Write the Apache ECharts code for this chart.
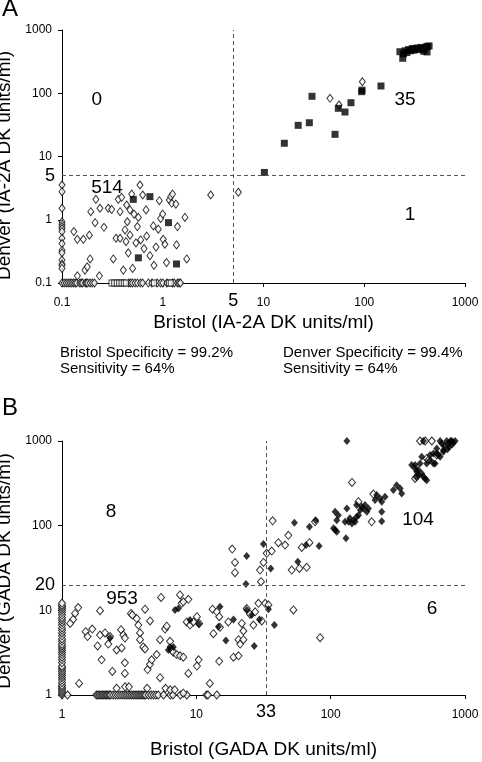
<!DOCTYPE html>
<html><head><meta charset="utf-8">
<script src="https://cdn.jsdelivr.net/npm/echarts@6/dist/echarts.min.js"></script>
<style>html,body{margin:0;padding:0;background:#fff}#c{width:482px;height:762px}</style>
</head><body><div id="c"></div>
<script>
// ---------- Panel A (IA-2A) ----------
const iaTicks = [0.1, 1, 10, 100, 1000];
const iaCutoff = 5;
// open diamonds lying on the Bristol = 0.1 axis (Denver values)
const iaOpenOnYAxis = [3.54,2.78,1.52,0.93,0.85,0.78,0.72,0.65,0.51,0.42,0.33,0.3,0.23,0.2,0.19,0.17];
// open diamonds lying on the Denver = 0.1 axis (Bristol values)
const iaOpenOnXAxis = [0.1,0.105,0.11,0.115,0.12,0.125,0.13,0.135,0.14,0.15,0.155,0.16,0.17,0.175,0.18,0.19,0.2,0.21,0.46,0.48,0.5,0.53,0.56,0.6,0.63,0.72,0.78,0.88,0.95,1.0,1.1,1.25,1.3,1.4,1.45,1.5];
// open squares on the Denver = 0.1 axis (Bristol values)
const iaSquareOnXAxis = [0.31,0.33,0.35,0.37,0.39,0.41,0.43,0.82,1.15,1.2];
// open diamonds [Bristol, Denver]
const iaOpen = [[0.131,0.65],[0.142,0.49],[0.142,0.13],[0.163,0.49],[0.169,0.16],[0.178,0.18],[0.187,0.57],[0.19,0.24],[0.193,1.34],[0.213,0.9],[0.217,2.1],[0.235,0.13],[0.238,1.52],[0.261,0.76],[0.288,1.52],[0.311,1.46],[0.323,0.24],[0.344,0.51],[0.362,2.1],[0.377,1.34],[0.377,0.51],[0.391,2.26],[0.406,0.16],[0.422,0.69],[0.432,0.45],[0.438,1.71],[0.445,0.93],[0.455,0.3],[0.473,1.43],[0.473,0.57],[0.492,2.55],[0.502,0.17],[0.519,1.23],[0.542,0.43],[0.56,0.78],[0.573,1.09],[0.594,3.54],[0.604,0.48],[0.632,2.46],[0.652,0.35],[0.683,1.43],[0.692,0.55],[0.746,0.27],[0.807,0.8],[0.818,0.19],[0.857,0.37],[0.904,0.71],[0.925,2.0],[0.953,1.05],[0.998,1.23],[1.01,0.49],[1.05,0.41],[1.09,0.21],[1.16,2.05],[1.2,2.32],[1.23,1.82],[1.25,2.55],[1.35,1.77],[1.37,0.4],[1.4,0.78],[1.66,1.09],[1.73,0.24],[2.99,2.46],[5.63,2.72],[45.7,83.2],[95.7,152],[56.2,65.2]];
// filled squares [Bristol, Denver]
const iaFilled = [[0.51,2.1],[0.746,2.32],[1.14,0.9],[0.573,0.25],[1.37,0.2],[10.2,5.6],[16.1,16.2],[22.1,31.1],[28.5,34.2],[30.3,89.5],[51.3,22.4],[55.3,57.8],[64.4,50.5],[73.8,70.9],[94.3,105.9],[95,112],[146.6,130.2],[226,454],[241,357],[245,420],[255,470],[265,440],[275,490],[290,470],[300,510],[310,480],[320,500],[335,520],[350,490],[365,530],[380,500],[395,510],[410,540],[425,550],[440,560],[420,450],[390,460]];
// quadrant counts [text, Bristol, Denver]
const iaQuadrants = [['0',0.222,78],['35',254,78],['514',0.28,3.2],['1',284,1.19]];

// ---------- Panel B (GADA) ----------
const gadaXCutoff = 33;
const gadaYCutoff = 20;
const gadaOpenOnYAxis = [1,1.05,1.1,1.15,1.2,1.25,1.3,1.4,1.5,1.6,1.7,1.8,1.9,2,2.1,2.2,2.4,2.6,2.8,3,3.2,3.4,3.6,3.8,4,4.3,4.6,5,5.4,5.8,6.2,6.7,7.2,7.7,8.2,8.8,9.4,10,10.5,11,11.5,12.2];
const gadaOpenOnXAxis = [1.1,1.8,1.85,1.9,1.95,2.0,2.05,2.1,2.15,2.2,2.25,2.3,2.4,2.5,2.6,2.7,2.8,2.9,3.0,3.1,3.2,3.3,3.4,3.5,3.6,3.7,3.8,3.9,4.0,4.1,4.2,4.4,4.6,4.8,5.0,5.2,5.7,6.4,6.7,7.6,8.5,11.9,12.2,14.2];
const gadaOpen = [[1.32,10.8],[1.25,9.2],[1.21,7.8],[1.15,7.0],[1.34,1.37],[1.92,9.9],[1.5,5.6],[1.55,4.9],[1.68,6.0],[1.84,3.8],[1.92,5.1],[2.09,5.4],[2.28,4.9],[2.21,4.0],[1.97,2.6],[2.37,1.9],[2.55,3.4],[2.75,5.9],[2.86,5.1],[2.94,4.7],[2.78,3.6],[2.94,2.4],[2.94,1.8],[3.26,9.2],[3.34,8.8],[3.6,8.0],[3.7,6.7],[3.81,5.4],[3.81,4.5],[4.03,3.7],[4.15,3.5],[4.15,10.3],[4.52,7.5],[4.34,2.0],[4.52,2.3],[4.65,2.6],[5.07,3.0],[5.37,4.5],[5.37,1.6],[5.46,14.2],[5.85,6.0],[6.02,6.5],[6.37,4.3],[6.55,3.4],[6.74,3.2],[7.14,3.0],[7.56,2.9],[8.0,2.8],[7.56,15.2],[7.78,12.1],[8.0,12.6],[8.72,13.5],[8.48,7.3],[8.97,6.7],[9.5,7.3],[10.1,8.4],[10.5,7.0],[10.4,2.6],[10.1,2.2],[8.72,1.8],[2.55,1.2],[2.95,1.25],[3.15,1.25],[4.3,1.2],[5.9,1.2],[6.4,1.15],[6.9,1.15],[8.0,1.05],
[18.5,52.9],[19.4,36.8],[19.4,27.8],[31.6,36.8],[29.8,29.9],[30.3,21.8],[33.4,47.1],[36.4,50.1],[40.8,62.9],[45.8,59],[51.3,29.9],[58.5,31.3],[66.3,32.2],[60.9,55.4],[69.5,62.9],[13.2,10.3],[14.2,9.6],[14.8,8.4],[17.3,7.3],[15.0,6.3],[13.4,5.3],[21.8,7.0],[22.4,5.7],[20.6,4.5],[21.2,4.0],[22.4,4.5],[18.9,2.8],[20.6,2.9],[14.8,2.5],[27.4,9.6],[29.0,12.1],[32.5,12.1],[34.4,11.6],[30.7,7.5],[26.6,6.7],[25.1,9.0],[23.7,10.5],[52.8,10.1],[83.4,4.75],[12.6,1.37],
[144,324],[208,236],[161,192],[202,111],[37,114],[76.5,111],[48.4,77],[425,361],[519,622],[463,1000],[505,1000],[566,1000],[534,595],[616,682],[437,378]];
const gadaFilled = [[2.28,4.7],[6.19,3.4],[6.37,3.7],[6.74,3.7],[6.94,10.1],[7.35,10.5],[8.97,7.7],[10.4,6.9],
[31.6,60.6],[23.7,43.8],[35.8,31.3],[23.4,20.4],[56.9,37.5],[65.6,59],[82,57.4],[15.0,11.0],[14.6,6.4],[18.9,7.8],[16.6,4.4],[23.7,10.1],[25.8,8.8],[29.5,7.8],[34.4,10.3],[38.1,6.7],[27.0,3.8],
[310,301],[329,275],[338,240],[293,263],[220,230],[233,210],[254,220],[240,192],[214,201],[156,175],[170,167],[180,175],[191,160],[186,146],[166,153],[175,160],[132,160],[240,146],[108,146],[114,133],[111,116],[139,122],[148,116],[156,127],[161,133],[152,111],[144,106],[136,111],[128,111],[240,113],[105,93],[111,85],[108,89],[130,71],[53.7,108],[69.5,97],[77.4,116],
[401,519],[425,474],[450,453],[476,414],[504,361],[437,378],[476,651],[550,682],[582,543],[634,682],[691,746],[616,713],
[490,1000],[653,1000],[731,1000],[797,1000],[844,1000],[671,936],[753,936],[616,817],[691,781],[582,713],[653,651],[550,595],[599,543],[519,543],[463,543],[425,519],[437,433],[490,378],[519,345],[450,396],[800,900],[760,850],[700,880],[820,960],[780,1000],[740,800],[132,1000]];
const gadaQuadrants = [['8',2.32,145],['104',447,116],['953',2.8,13.6],['6',569,10.4]];

// ---------- chart ----------
const FONT = '"Liberation Sans", Arial, Helvetica, sans-serif';
const openStyle = {color:'#fff', borderColor:'#000', borderWidth:1};
const dashStyle = {type:[4,3], color:'#555', width:1};
const fmtTick = v => (v < 1 ? v.toFixed(1) : String(Math.round(v)));

function axis(grid, min, max, name, gap, isY, namePad) {
  return {
    type:'log', logBase:10, min, max, gridIndex:grid,
    name, nameLocation:'middle', nameGap:gap,
    nameTextStyle:{fontSize:19, color:'#000', fontFamily:FONT, padding:namePad || 0},
    axisLine:{show:true, lineStyle:{color:'#000', width:1}},
    axisTick:{show:true, length:4, inside:false, lineStyle:{color:'#000'}},
    minorTick:{show:false},
    axisLabel:{color:'#000', fontSize:12, fontFamily:FONT, margin:isY?10:14, formatter:fmtTick},
    splitLine:{show:false}, minorSplitLine:{show:false}
  };
}
function quadSeries(list, xi, yi) {
  return {
    type:'scatter', xAxisIndex:xi, yAxisIndex:yi, silent:true, symbol:'circle', symbolSize:1,
    itemStyle:{color:'#fff', opacity:1},
    data:list.map(q => ({value:[q[1], q[2]], name:q[0]})),
    label:{show:true, position:'inside', formatter:p => p.name, fontSize:19, color:'#000', opacity:1, textBorderWidth:0, fontFamily:FONT},
    z:5
  };
}
function cutLabel(txt, dist, pad) {
  return {show:true, position:'start', formatter:txt, fontSize:18, color:'#000', fontFamily:FONT, distance:dist, padding:pad || 0};
}

const option = {
  animation:false,
  backgroundColor:'#fff',
  title:[
    {text:'A', left:2, top:-3, padding:0, textStyle:{fontSize:24, fontWeight:'normal', color:'#000', fontFamily:FONT}},
    {text:'B', left:2, top:396, padding:0, textStyle:{fontSize:24, fontWeight:'normal', color:'#000', fontFamily:FONT}},
    {text:'Bristol Specificity = 99.2%\nSensitivity = 64%', left:60, top:345, padding:0, textStyle:{fontSize:15, lineHeight:16, fontWeight:'normal', color:'#000', fontFamily:FONT}},
    {text:'Denver Specificity = 99.4%\nSensitivity = 64%', left:283, top:345, padding:0, textStyle:{fontSize:15, lineHeight:16, fontWeight:'normal', color:'#000', fontFamily:FONT}}
  ],
  grid:[
    {left:62, top:30, width:403, height:253, outerBoundsMode:'none', containLabel:false},
    {left:62, top:441, width:403, height:254, outerBoundsMode:'none', containLabel:false}
  ],
  xAxis:[
    axis(0, iaTicks[0], iaTicks[iaTicks.length-1], 'Bristol (IA-2A DK units/ml)', 30, false),
    axis(1, 1, 1000, 'Bristol (GADA DK units/ml)', 45, false)
  ],
  yAxis:[
    axis(0, iaTicks[0], iaTicks[iaTicks.length-1], 'Denver (IA-2A DK units/ml)', 42, true, [0,18,0,0]),
    axis(1, 1, 1000, 'Denver (GADA DK units/ml)', 42, true, [0,6,0,0])
  ],
  series:[
    {type:'scatter', xAxisIndex:0, yAxisIndex:0, silent:true, clip:false, symbol:'diamond', symbolSize:[6,8], itemStyle:openStyle,
     data:[].concat(iaOpenOnYAxis.map(v=>[0.1,v]), iaOpenOnXAxis.map(v=>[v,0.1]), iaOpen),
     markLine:{silent:true, symbol:'none', lineStyle:dashStyle,
       data:[{xAxis:iaCutoff, label:cutLabel(String(iaCutoff), 9)}, {yAxis:iaCutoff, label:cutLabel(String(iaCutoff), 7)}]}},
    {type:'scatter', xAxisIndex:0, yAxisIndex:0, silent:true, clip:false, symbol:'rect', symbolSize:[5,6], itemStyle:openStyle,
     data:iaSquareOnXAxis.map(v=>[v,0.1])},
    {type:'scatter', xAxisIndex:0, yAxisIndex:0, silent:true, clip:false, symbol:'rect', symbolSize:7, itemStyle:{color:'#000'},
     data:iaFilled},
    quadSeries(iaQuadrants, 0, 0),

    {type:'scatter', xAxisIndex:1, yAxisIndex:1, silent:true, clip:false, symbol:'diamond', symbolSize:[7,8], itemStyle:openStyle,
     data:[].concat(gadaOpenOnYAxis.map(v=>[1,v]), gadaOpenOnXAxis.map(v=>[v,1]), gadaOpen),
     markLine:{silent:true, symbol:'none', lineStyle:dashStyle,
       data:[{xAxis:gadaXCutoff, label:cutLabel(String(gadaXCutoff), 8)}, {yAxis:gadaYCutoff, label:cutLabel(String(gadaYCutoff), 7, [0,0,10,0])}]}},
    {type:'scatter', xAxisIndex:1, yAxisIndex:1, silent:true, clip:false, symbol:'diamond', symbolSize:[7,8], itemStyle:{color:'#000'},
     data:gadaFilled},
    quadSeries(gadaQuadrants, 1, 1)
  ]
};
const chart = echarts.init(document.getElementById('c'), null, {renderer:'canvas'});
chart.setOption(option);
</script></body></html>
